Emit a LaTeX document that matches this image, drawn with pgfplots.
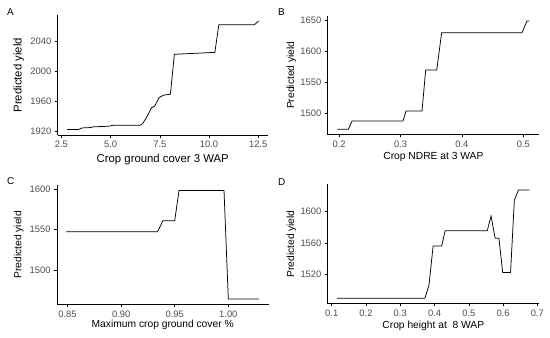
\documentclass[border=0pt]{standalone}
\usepackage{pgfplots}
\pgfplotsset{compat=1.18}
\usepackage{fontspec}
\setmainfont{Liberation Sans}
\definecolor{tickgray}{HTML}{4D4D4D}
\pgfplotsset{
  panel/.style={
    scale only axis,
    anchor=south west,
    axis x line*=bottom,
    axis y line*=left,
    axis line style={black, line width=0.6bp},
    tick align=outside,
    major tick length=2.75bp,
    tick style={black, line width=0.5bp},
    /pgf/number format/assume math mode=true,
    /pgf/number format/1000 sep={},
    ticklabel style={font=\fontsize{9.4}{11}\selectfont, text=tickgray},
    label style={font=\fontsize{10.3}{12}\selectfont, text=black},
    xlabel style={anchor=base},
    ylabel style={anchor=base},
  },
  curve/.style={black, line width=0.75bp, mark=none},
}
\begin{document}
\begin{tikzpicture}[x=1bp,y=1bp]
\path (0,0) rectangle (550,337);
% Panel A
\begin{axis}[panel, at={(57.5bp,202bp)}, width=210.5bp, height=119.6bp,
  xmin=2.3, xmax=13.0, ymin=1914.5, ymax=2075.3,
  xtick={2.5,5,7.5,10,12.5}, ytick={1920,1960,2000,2040},
  xticklabel style={/pgf/number format/.cd, fixed, fixed zerofill, precision=1},
  label style={font=\fontsize{11.4}{13}\selectfont},
  xlabel={Crop ground cover 3 WAP}, ylabel={Predicted yield},
  xlabel style={at={(axis description cs:0.5,-0.2316)}},
  ylabel style={at={(axis description cs:-0.171,0.5)}}]
\addplot[curve] coordinates {(2.79,1922) (3.38,1922) (3.55,1924) (3.97,1924.5) (4.14,1925.5) (4.9,1926.3) (5.15,1927.7) (6.51,1927.5) (6.63,1930) (6.85,1939) (7.07,1951) (7.24,1953.3) (7.47,1965) (7.69,1968) (8.04,1969.4) (8.24,2023) (10.3,2025.6) (10.5,2062.8) (12.31,2062.8) (12.52,2067.7)};
\end{axis}
% Panel B
\begin{axis}[panel, at={(327.5bp,202.3bp)}, width=211.7bp, height=119bp,
  xmin=0.181, xmax=0.526, ymin=1465.6, ymax=1657,
  xtick={0.2,0.3,0.4,0.5}, ytick={1500,1550,1600,1650},
  xticklabel style={/pgf/number format/.cd, fixed, fixed zerofill, precision=1},
  xlabel={Crop NDRE at 3 WAP}, ylabel={Predicted yield},
  xlabel style={at={(axis description cs:0.5,-0.2067)}},
  ylabel style={at={(axis description cs:-0.158,0.5)}}]
\addplot[curve] coordinates {(0.197,1474.3) (0.215,1474.3) (0.221,1487.6) (0.304,1487.6) (0.309,1503.7) (0.335,1503.7) (0.341,1569.6) (0.359,1569.6) (0.367,1629.6) (0.498,1629.6) (0.506,1648.4) (0.510,1648.4)};
\end{axis}
% Panel C
\begin{axis}[panel, at={(56.8bp,32.6bp)}, width=211.8bp, height=119.4bp,
  xmin=0.840, xmax=1.0376, ymin=1457.3, ymax=1604.7,
  xtick={0.85,0.90,0.95,1.00}, ytick={1500,1550,1600},
  xticklabel style={/pgf/number format/.cd, fixed, fixed zerofill, precision=2},
  xlabel={Maximum crop ground cover \%}, ylabel={Predicted yield},
  xlabel style={at={(axis description cs:0.5,-0.195)}},
  ylabel style={at={(axis description cs:-0.167,0.5)}}]
\addplot[curve] coordinates {(0.849,1547) (0.934,1547) (0.939,1560.6) (0.950,1560.6) (0.954,1597.9) (0.996,1597.9) (1.0,1464) (1.0286,1464)};
\end{axis}
% Panel D
\begin{axis}[panel, at={(327.6bp,33.4bp)}, width=211.4bp, height=119.3bp,
  xmin=0.088, xmax=0.705, ymin=1482, ymax=1635,
  xtick={0.1,0.2,0.3,0.4,0.5,0.6,0.7}, ytick={1520,1560,1600},
  xticklabel style={/pgf/number format/.cd, fixed, fixed zerofill, precision=1},
  xlabel={Crop height at \ 8 WAP}, ylabel={Predicted yield},
  xlabel style={at={(axis description cs:0.5,-0.207)}},
  ylabel style={at={(axis description cs:-0.158,0.5)}}]
\addplot[curve] coordinates {(0.116,1488.8) (0.372,1488.8) (0.384,1506) (0.396,1556) (0.421,1556) (0.431,1575.5) (0.554,1575.5) (0.565,1594.4) (0.577,1565.8) (0.588,1565.8) (0.599,1522) (0.622,1522) (0.633,1614.3) (0.645,1627.7) (0.677,1627.7)};
\end{axis}
\node[anchor=base west, inner sep=0pt, font=\fontsize{10}{12}\selectfont] at (7,322) {A};
\node[anchor=base west, inner sep=0pt, font=\fontsize{10}{12}\selectfont] at (278,322) {B};
\node[anchor=base west, inner sep=0pt, font=\fontsize{10}{12}\selectfont] at (7,153) {C};
\node[anchor=base west, inner sep=0pt, font=\fontsize{10}{12}\selectfont] at (278,152) {D};
\end{tikzpicture}
\end{document}
